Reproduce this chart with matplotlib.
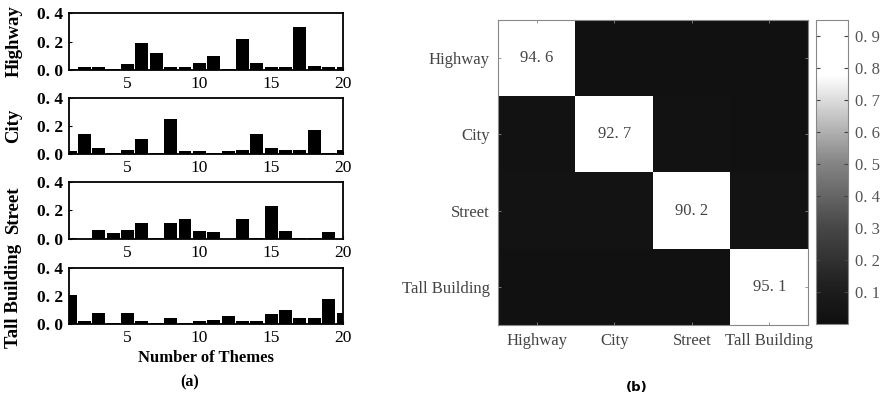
import numpy as np
import matplotlib
matplotlib.use("Agg")
import matplotlib.pyplot as plt
from matplotlib.colors import LinearSegmentedColormap

themes = list(range(1, 21))
highway = [0.01, 0.02, 0.02, 0.01, 0.04, 0.19, 0.12, 0.02, 0.02, 0.05,
           0.10, 0.01, 0.22, 0.05, 0.02, 0.02, 0.30, 0.03, 0.02, 0.02]
city = [0.02, 0.14, 0.04, 0.01, 0.03, 0.11, 0.01, 0.25, 0.02, 0.02,
        0.01, 0.02, 0.03, 0.14, 0.04, 0.03, 0.03, 0.17, 0.01, 0.03]
street = [0.01, 0.0, 0.06, 0.04, 0.06, 0.11, 0.01, 0.11, 0.14, 0.055,
          0.05, 0.0, 0.14, 0.01, 0.23, 0.055, 0.01, 0.01, 0.05, 0.0]
tall_building = [0.21, 0.02, 0.08, 0.01, 0.08, 0.02, 0.01, 0.04, 0.01, 0.02,
                 0.03, 0.06, 0.02, 0.02, 0.07, 0.10, 0.04, 0.04, 0.18, 0.08]
bar_series = [("Highway", highway), ("City", city), ("Street", street),
              ("Tall Building", tall_building)]
y_ticks = [0.0, 0.2, 0.4]
y_tick_labels = ["0. 0", "0. 2", "0. 4"]
x_ticks = [5, 10, 15, 20]

classes = ["Highway", "City", "Street", "Tall Building"]
confusion = np.array([
    [0.946, 0.020, 0.018, 0.016],
    [0.025, 0.927, 0.028, 0.020],
    [0.030, 0.035, 0.902, 0.033],
    [0.015, 0.017, 0.017, 0.951],
])
cell_labels = ["94. 6", "92. 7", "90. 2", "95. 1"]
cbar_ticks = [0.1, 0.2, 0.3, 0.4, 0.5, 0.6, 0.7, 0.8, 0.9]
cbar_labels = ["0. 1", "0. 2", "0. 3", "0. 4", "0. 5", "0. 6", "0. 7", "0. 8", "0. 9"]

W, H = 883, 396
fig = plt.figure(figsize=(W / 100, H / 100), dpi=100)
serif = "Liberation Serif"

left_boxes = [(13, 70), (98, 154), (182, 239), (268, 324)]
for (name, vals), (top, bot) in zip(bar_series, left_boxes):
    ax = fig.add_axes([69 / W, 1 - bot / H, (343 - 69) / W, (bot - top) / H])
    ax.bar(themes, vals, width=0.9, color="black")
    ax.set_xlim(0.92, 20)
    ax.set_ylim(0, 0.4)
    ax.set_yticks(y_ticks)
    ax.set_yticklabels(y_tick_labels, fontfamily=serif, fontweight="bold", fontsize=12.5)
    ax.set_xticks(x_ticks)
    ax.set_xticklabels([str(t) for t in x_ticks], fontfamily=serif, fontsize=12.5)
    ax.tick_params(direction="in", length=2, width=0.8, pad=4)
    for s in ax.spines.values():
        s.set_linewidth(1.3)
    ax.set_ylabel(name, fontfamily=serif, fontweight="bold", fontsize=13.5, labelpad=4)
    ax.yaxis.set_label_coords(-0.17, 0.5)
    if name == "Tall Building":
        ax.set_xlabel("Number of Themes", fontfamily=serif, fontweight="bold",
                      fontsize=12, labelpad=3)

fig.text(190 / W, 1 - 382 / H, "(a)", fontfamily=serif, fontweight="bold",
         fontsize=11.5, ha="center", va="center")
fig.text(637 / W, 1 - 387 / H, "(b)", fontfamily="DejaVu Sans", fontweight="bold",
         fontsize=9.5, ha="center", va="center")

cmap = LinearSegmentedColormap.from_list(
    "scan_gray",
    [(0.0, (0.06, 0.06, 0.06)), (0.12, (0.12, 0.12, 0.12)), (0.32, (0.28, 0.28, 0.28)),
     (0.53, (0.52, 0.52, 0.52)), (0.70, (0.80, 0.80, 0.80)), (0.82, (1, 1, 1)),
     (1.0, (1, 1, 1))])

axh = fig.add_axes([498 / W, 1 - 325 / H, (808 - 498) / W, 305 / H])
im = axh.imshow(confusion, cmap=cmap, vmin=0, vmax=0.95, aspect="auto",
                interpolation="nearest")
for i, lab in enumerate(cell_labels):
    axh.text(i, i, lab, ha="center", va="center", fontfamily=serif,
             fontsize=12, color="#444444")
axh.set_xticks(range(4))
axh.set_yticks(range(4))
axh.set_xticklabels(classes, fontfamily=serif, fontsize=12, color="#444444")
axh.set_yticklabels(classes, fontfamily=serif, fontsize=12, color="#444444")
axh.tick_params(direction="in", length=2, width=0.6, color="#888888",
                top=True, right=True, pad=6)
for s in axh.spines.values():
    s.set_color("#888888")
    s.set_linewidth(0.8)

cax = fig.add_axes([816 / W, 1 - 324 / H, 32 / W, 304 / H])
cb = fig.colorbar(im, cax=cax)
cb.set_ticks(cbar_ticks)
cb.set_ticklabels(cbar_labels)
for t in cax.get_yticklabels():
    t.set_fontfamily(serif)
    t.set_fontsize(12)
    t.set_color("#555555")
cax.tick_params(direction="in", length=3, width=0.8, color="#444444",
                left=True, right=True, pad=5)
cb.outline.set_edgecolor("#888888")
cb.outline.set_linewidth(0.8)

fig.savefig("out.png", dpi=100)
